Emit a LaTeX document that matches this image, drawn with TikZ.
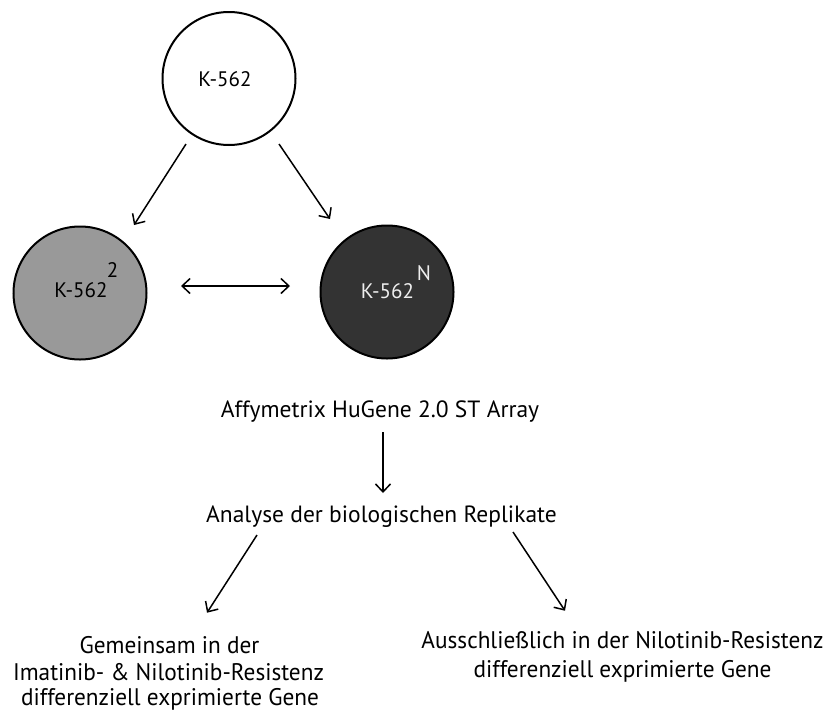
\documentclass[tikz,border=0pt]{standalone}
\usepackage{fontspec}
\setmainfont{PT Sans}
\newfontfamily\condfont[FakeStretch=0.97]{PT Sans}
\usetikzlibrary{arrows.meta,calc}
\definecolor{midgray}{HTML}{999999}
\definecolor{darkfill}{HTML}{333333}
\definecolor{lighttext}{HTML}{EEEEEE}
\tikzset{
  cell/.style={circle, draw=black, line width=2pt, minimum size=133pt, inner sep=0pt},
  arr/.style={line width=1.5pt, -{Straight Barb[length=8pt,width=15pt,line width=1.5pt]}},
  darr/.style={line width=1.5pt, {Straight Barb[length=8pt,width=15pt,line width=1.5pt]}-{Straight Barb[length=8pt,width=15pt,line width=1.5pt]}},
  clbl/.style={font=\fontsize{21}{24}\selectfont, inner sep=0pt, anchor=base},
  lbl/.style={font=\fontsize{23.5}{28}\selectfont, inner sep=0pt, anchor=base},
  cnd/.style={font=\condfont\fontsize{24}{28}\selectfont, inner sep=0pt, anchor=base},
}
\begin{document}
\begin{tikzpicture}[x=1pt,y=-1pt]
\useasboundingbox (0,0) rectangle (829,715);
% circles
\node[cell, fill=white] (top) at (229,78.5) {};
\node[cell, fill=midgray] (left) at (80,293) {};
\node[cell, fill=darkfill] (right) at (387,292) {};
% labels in circles
\node[clbl] (tt) at (225,86) {K-562};
\node[clbl] (lt) at (81,297) {K-562};
\node[clbl] (lts) at (112.5,277) {2};
\node[clbl, text=lighttext] (rt) at (387.5,298) {K-562};
\node[clbl, text=lighttext] (rts) at (424,280) {N};
% arrows between circles
\draw[arr] ($(top.center)+(-43,65.5)$) -- ($(left.center)+(54,-68)$);
\draw[arr] ($(top.center)+(50,65.5)$) -- ($(right.center)+(-57,-73)$);
\draw[darr] ($(left.center)+(101,-7)$) -- ($(right.center)+(-97,-6)$);
% flow text
\node[lbl] (affy) at (380,417) {Affymetrix HuGene 2.0 ST Array};
\node[lbl] (ana) at (381.5,522) {Analyse der biologischen Replikate};
\draw[arr] ($(affy.base)+(3,15)$) -- ($(ana.base)+(1.5,-29)$);
% bottom left
\node[cnd] (g1) at (169.5,653) {Gemeinsam in der};
\node[cnd] (g2) at (168.5,680) {Imatinib- \& Nilotinib-Resistenz};
\node[cnd] (g3) at (170,705) {differenziell exprimierte Gene};
% bottom right
\node[cnd] (a1) at (622.5,648) {Ausschließlich in der Nilotinib-Resistenz};
\node[cnd] (a2) at (622.5,677) {differenziell exprimierte Gene};
% arrows to results
\draw[arr] ($(ana.base)+(-124.5,13)$) -- ($(g1.north)+(37.5,-23)$);
\draw[arr] ($(ana.base)+(131.5,10)$) -- ($(a1.north)+(-57.5,-20)$);
\end{tikzpicture}
\end{document}
